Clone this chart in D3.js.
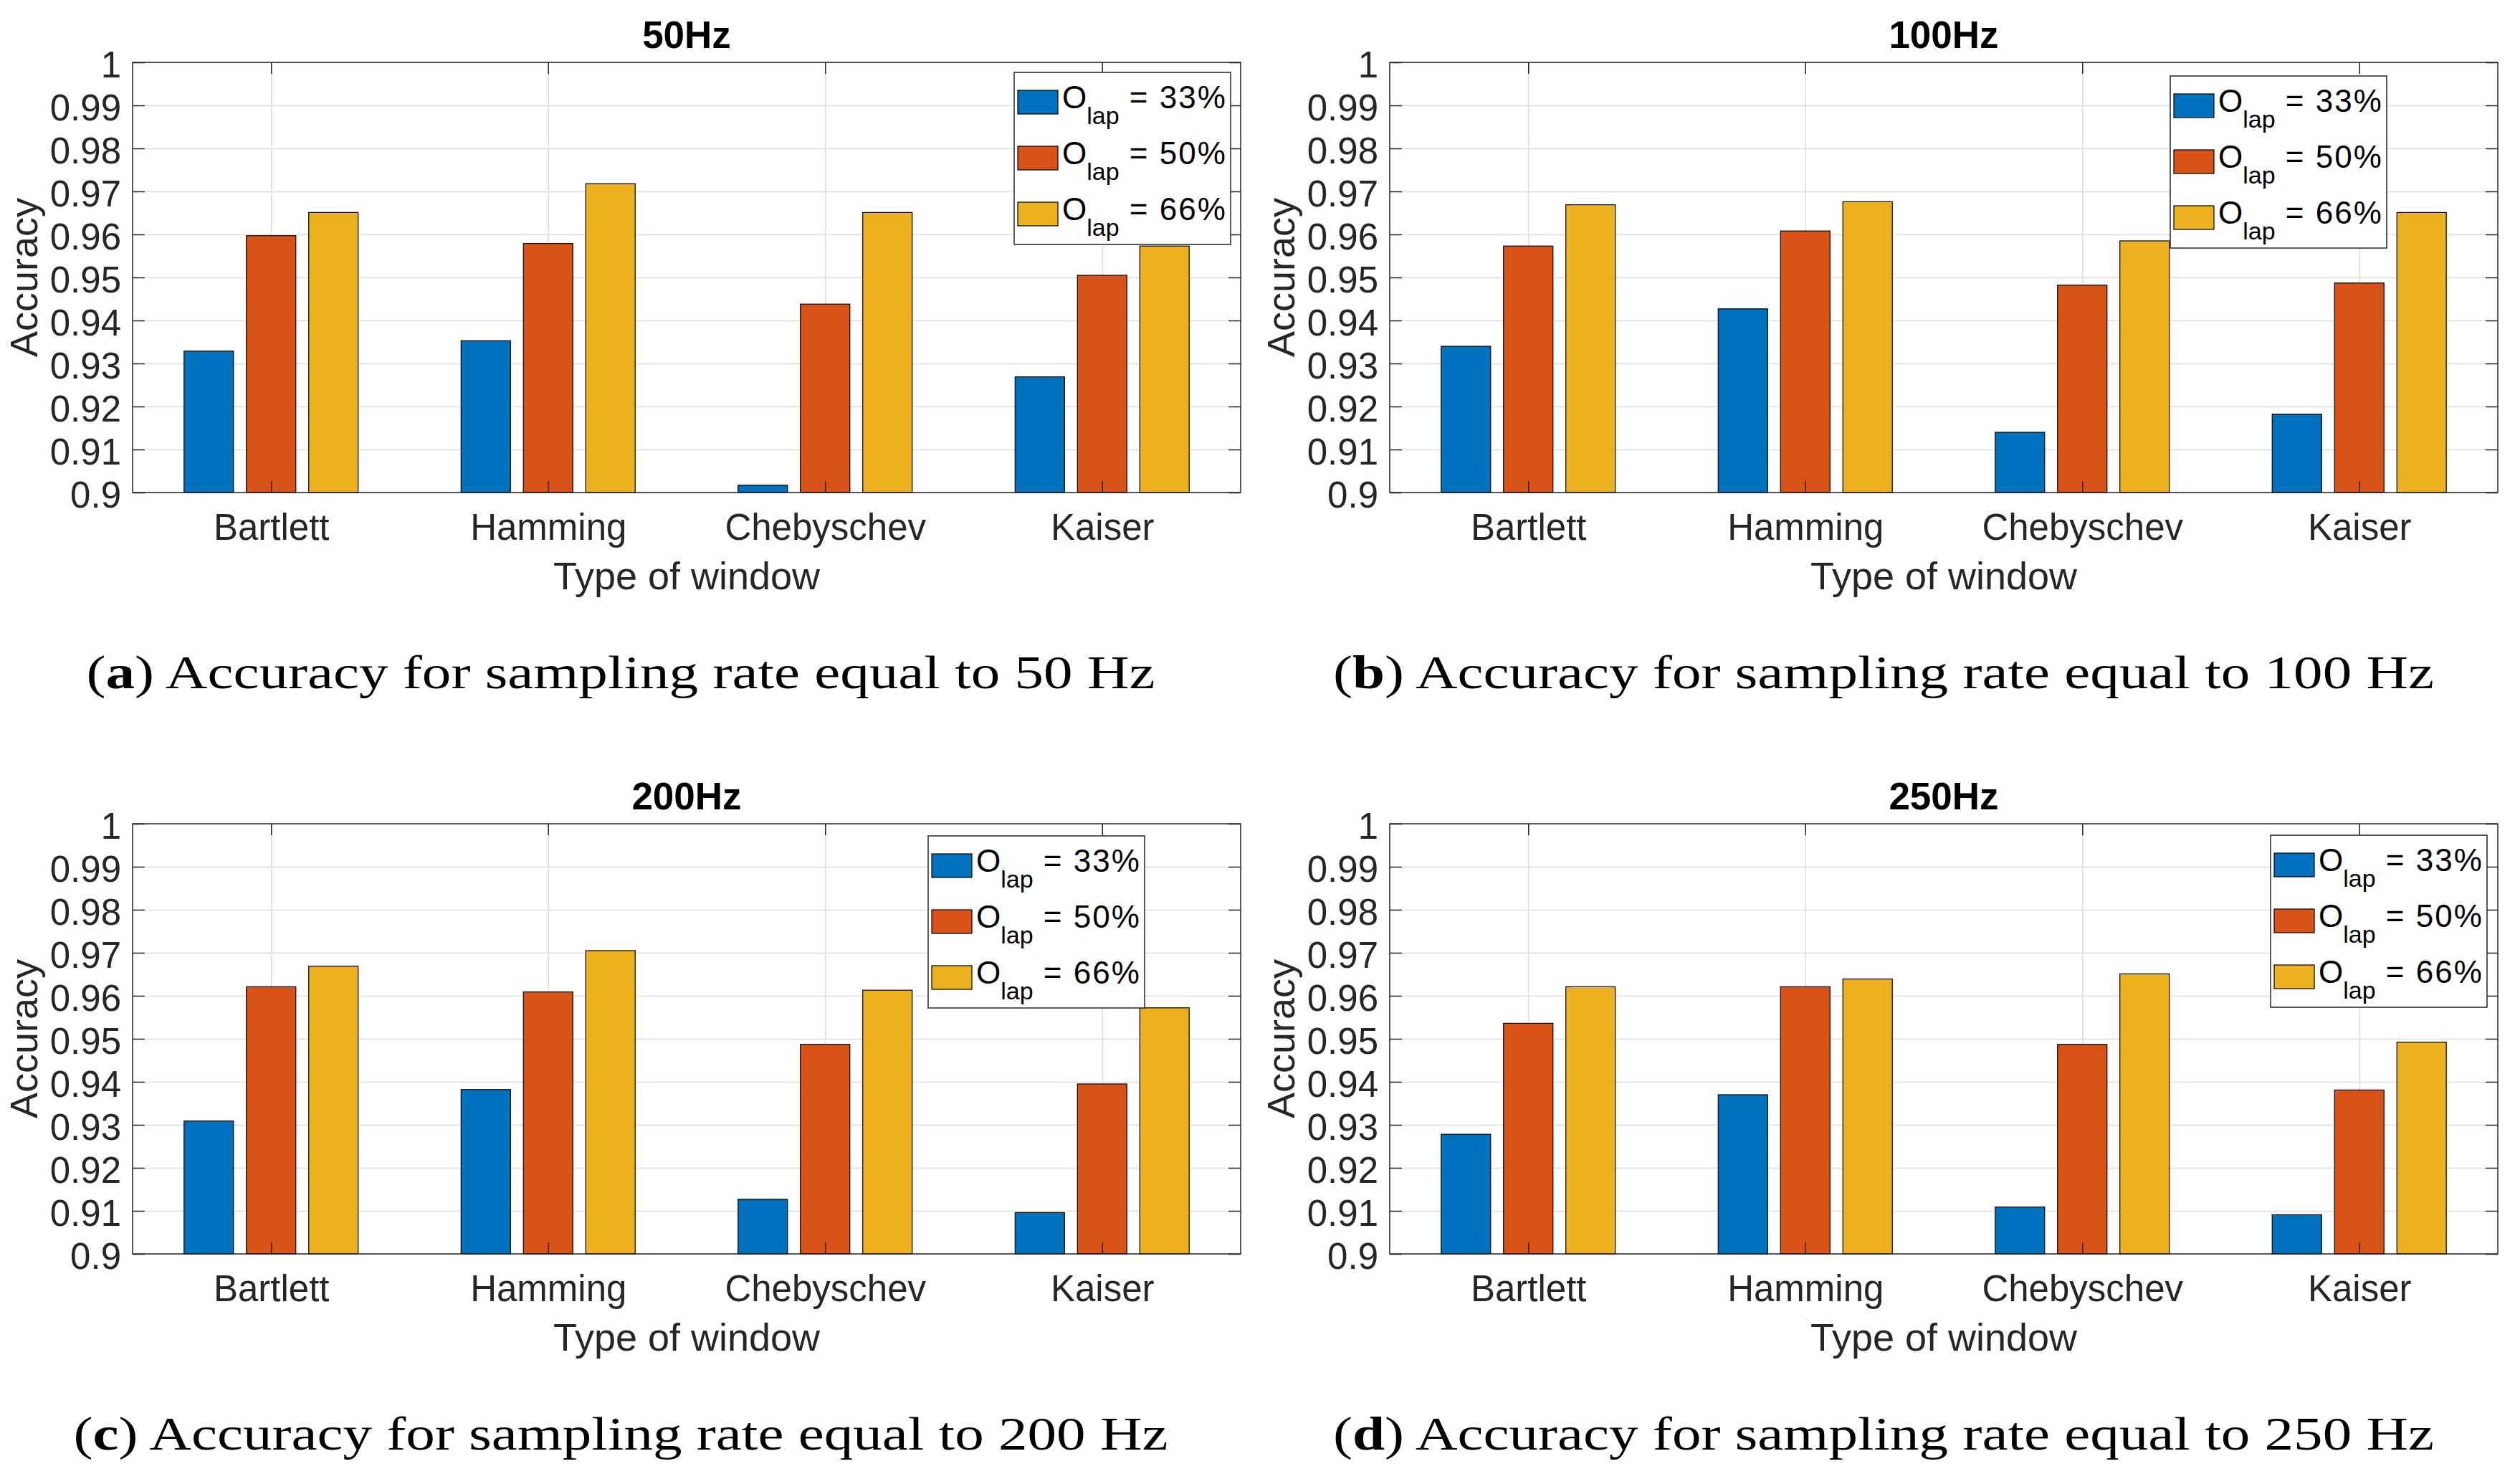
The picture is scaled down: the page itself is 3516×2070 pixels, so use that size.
<!DOCTYPE html>
<html>
<head>
<meta charset="utf-8">
<script src="https://cdn.jsdelivr.net/npm/d3@7/dist/d3.min.js"></script>
<style>
  body { margin: 0; background: #fff; }
  svg { display: block; }
  .tick text { font-family: "Liberation Sans", Arial, Helvetica, sans-serif; }
</style>
</head>
<body>
<svg id="chart" width="3516" height="2070"></svg>
<script>
// categories and series
var windowTypes = ['Bartlett', 'Hamming', 'Chebyschev', 'Kaiser'];
var overlapLabels = ['33%', '50%', '66%'];
var seriesColors = ['#0072BD', '#D95319', '#EDB120'];
var rateTitles = ['50Hz', '100Hz', '200Hz', '250Hz'];
var captionLetters = ['a', 'b', 'c', 'd'];
var captionRates = ['50 Hz', '100 Hz', '200 Hz', '250 Hz'];

// accuracy per window, one value per overlap (33%, 50%, 66%)
var acc50 = [[0.9329, 0.9597, 0.9651], [0.9353, 0.9579, 0.9718], [0.9017, 0.9438, 0.9651], [0.9269, 0.9505, 0.9573]];
var acc100 = [[0.9340, 0.9573, 0.9669], [0.9427, 0.9608, 0.9676], [0.9140, 0.9482, 0.9585], [0.9182, 0.9487, 0.9651]];
var acc200 = [[0.9309, 0.9621, 0.9669], [0.9382, 0.9609, 0.9705], [0.9127, 0.9487, 0.9613], [0.9096, 0.9395, 0.9572]];
var acc250 = [[0.9278, 0.9536, 0.9621], [0.9370, 0.9621, 0.9639], [0.9109, 0.9487, 0.9651], [0.9091, 0.9381, 0.9492]];

// y axis ticks
var yTicks = [0.9, 0.91, 0.92, 0.93, 0.94, 0.95, 0.96, 0.97, 0.98, 0.99, 1];
var yTickLabels = ['0.9', '0.91', '0.92', '0.93', '0.94', '0.95', '0.96', '0.97', '0.98', '0.99', '1'];

var allValues = [acc50, acc100, acc200, acc250];

// layout of the 2x2 grid
var ax = { w: 1546, h: 600 };
var sans = '"Liberation Sans", Arial, Helvetica, sans-serif';
var serif = '"Liberation Serif", "Times New Roman", serif';
var axisColor = '#262626';
var gridColor = '#dfdfdf';

var panels = [
	{ left: 185, top: 87, legLeft: 1230, legTop: 14, capX: 866, capY: 960 },
	{ left: 1939, top: 87, legLeft: 1089, legTop: 19, capX: 2628, capY: 960 },
	{ left: 185, top: 1149, legLeft: 1110, legTop: 17, capX: 866, capY: 2022 },
	{ left: 1939, top: 1149, legLeft: 1229, legTop: 16, capX: 2628, capY: 2022 }
];

var svg = d3.select('#chart');
svg.append('rect').attr('width', 3516).attr('height', 2070).attr('fill', '#fff');

function styleAxis(sel, showText) {
	sel.select('.domain').remove();
	sel.selectAll('.tick line').attr('stroke', axisColor).attr('stroke-width', 1.5);
	if (!showText) sel.selectAll('.tick text').remove();
}

function drawPanel(p, k) {
	var values = allValues[k];
	var g = svg.append('g').attr('transform', 'translate(' + p.left + ',' + p.top + ')');
	var x = d3.scaleLinear().domain([0.5, 4.5]).range([0, ax.w]);
	var y = d3.scaleLinear().domain([0.9, 1]).range([ax.h, 0]);
	var catTicks = windowTypes.map(function(d, i) { return i + 1; });

	// grid lines (behind bars)
	var gy = g.append('g')
		.call(d3.axisLeft(y).tickValues(yTicks).tickSize(-ax.w).tickFormat(''));
	gy.select('.domain').remove();
	gy.selectAll('line').attr('stroke', gridColor).attr('stroke-width', 1.5);
	var gx = g.append('g').attr('transform', 'translate(0,' + ax.h + ')')
		.call(d3.axisBottom(x).tickValues(catTicks).tickSize(-ax.h).tickFormat(''));
	gx.select('.domain').remove();
	gx.selectAll('line').attr('stroke', gridColor).attr('stroke-width', 1.5);

	// bars
	var pitch = 0.225, bw = 0.1785;
	var barData = [];
	values.forEach(function(row, i) {
		row.forEach(function(v, j) {
			barData.push({ cat: i + 1, ser: j, v: v });
		});
	});
	g.selectAll('rect.bar').data(barData).enter().append('rect')
		.attr('class', 'bar')
		.attr('x', function(d) { return x(d.cat + (d.ser - 1) * pitch - bw / 2); })
		.attr('width', x(bw) - x(0))
		.attr('y', function(d) { return y(d.v); })
		.attr('height', function(d) { return y(0.9) - y(d.v); })
		.attr('fill', function(d) { return seriesColors[d.ser]; })
		.attr('stroke', '#000')
		.attr('stroke-width', 1.2);

	// axes with inward ticks
	var left = g.append('g').call(d3.axisLeft(y).tickValues(yTicks).tickSize(-17).tickPadding(16)
		.tickFormat(function(d, i) { return yTickLabels[i]; }));
	styleAxis(left, true);
	left.selectAll('text').attr('dy', '0.4em').attr('font-size', 51).attr('fill', axisColor);

	var right = g.append('g').attr('transform', 'translate(' + ax.w + ',0)')
		.call(d3.axisRight(y).tickValues(yTicks).tickSize(-17));
	styleAxis(right, false);

	var bottom = g.append('g').attr('transform', 'translate(0,' + ax.h + ')')
		.call(d3.axisBottom(x).tickValues(catTicks).tickSize(-16)
			.tickFormat(function(d) { return windowTypes[d - 1]; }));
	styleAxis(bottom, true);
	bottom.selectAll('text').attr('dy', null).attr('y', 66).attr('font-size', 51).attr('fill', axisColor);

	var top = g.append('g').call(d3.axisTop(x).tickValues(catTicks).tickSize(-16));
	styleAxis(top, false);

	// box
	g.append('rect').attr('width', ax.w).attr('height', ax.h)
		.attr('fill', 'none').attr('stroke', axisColor).attr('stroke-width', 1.5);

	// title and labels
	g.append('text').attr('x', ax.w / 2).attr('y', -20)
		.attr('text-anchor', 'middle').attr('font-family', sans)
		.attr('font-weight', 'bold').attr('font-size', 53).attr('fill', '#000')
		.text(rateTitles[k]);
	g.append('text').attr('x', ax.w / 2).attr('y', ax.h + 135)
		.attr('text-anchor', 'middle').attr('font-family', sans)
		.attr('font-size', 54).attr('fill', axisColor)
		.text('Type of window');
	g.append('text').attr('transform', 'translate(-133,' + (ax.h / 2) + ') rotate(-90)')
		.attr('text-anchor', 'middle').attr('font-family', sans)
		.attr('font-size', 54).attr('fill', axisColor)
		.text('Accuracy');

	// legend
	var leg = g.append('g').attr('transform', 'translate(' + p.legLeft + ',' + p.legTop + ')');
	leg.append('rect').attr('width', 302).attr('height', 240)
		.attr('fill', '#fff').attr('stroke', axisColor).attr('stroke-width', 1.5);
	overlapLabels.forEach(function(lbl, j) {
		leg.append('rect').attr('x', 5).attr('y', 25 + 78 * j).attr('width', 56).attr('height', 33)
			.attr('fill', seriesColors[j]).attr('stroke', '#000').attr('stroke-width', 1.2);
		var t = leg.append('text').attr('x', 67).attr('y', 50 + 78 * j)
			.attr('font-family', sans).attr('font-size', 44).attr('fill', '#000');
		t.append('tspan').text('O');
		t.append('tspan').attr('dy', 22).attr('font-size', 34).text('lap');
		t.append('tspan').attr('dy', -22).attr('letter-spacing', 2).text(' = ' + lbl);
	});
}

panels.forEach(drawPanel);

// sub-figure captions (serif, like the paper)
var capNodes = [];
panels.forEach(function(p, k) {
	var t = svg.append('text').attr('x', p.capX).attr('y', p.capY)
		.attr('text-anchor', 'middle').attr('font-family', serif)
		.attr('font-size', 66).attr('fill', '#000');
	t.append('tspan').text('(');
	t.append('tspan').attr('font-weight', 'bold').text(captionLetters[k]);
	t.append('tspan').text(') Accuracy for sampling rate equal to ' + captionRates[k]);
	capNodes.push(t);
});
// stretch captions to the width of the wider book font in the original
var stretch = 1491 / capNodes[0].node().getComputedTextLength();
capNodes.forEach(function(t) {
	var len = t.node().getComputedTextLength();
	t.attr('textLength', len * stretch).attr('lengthAdjust', 'spacingAndGlyphs');
});
</script>
</body>
</html>
